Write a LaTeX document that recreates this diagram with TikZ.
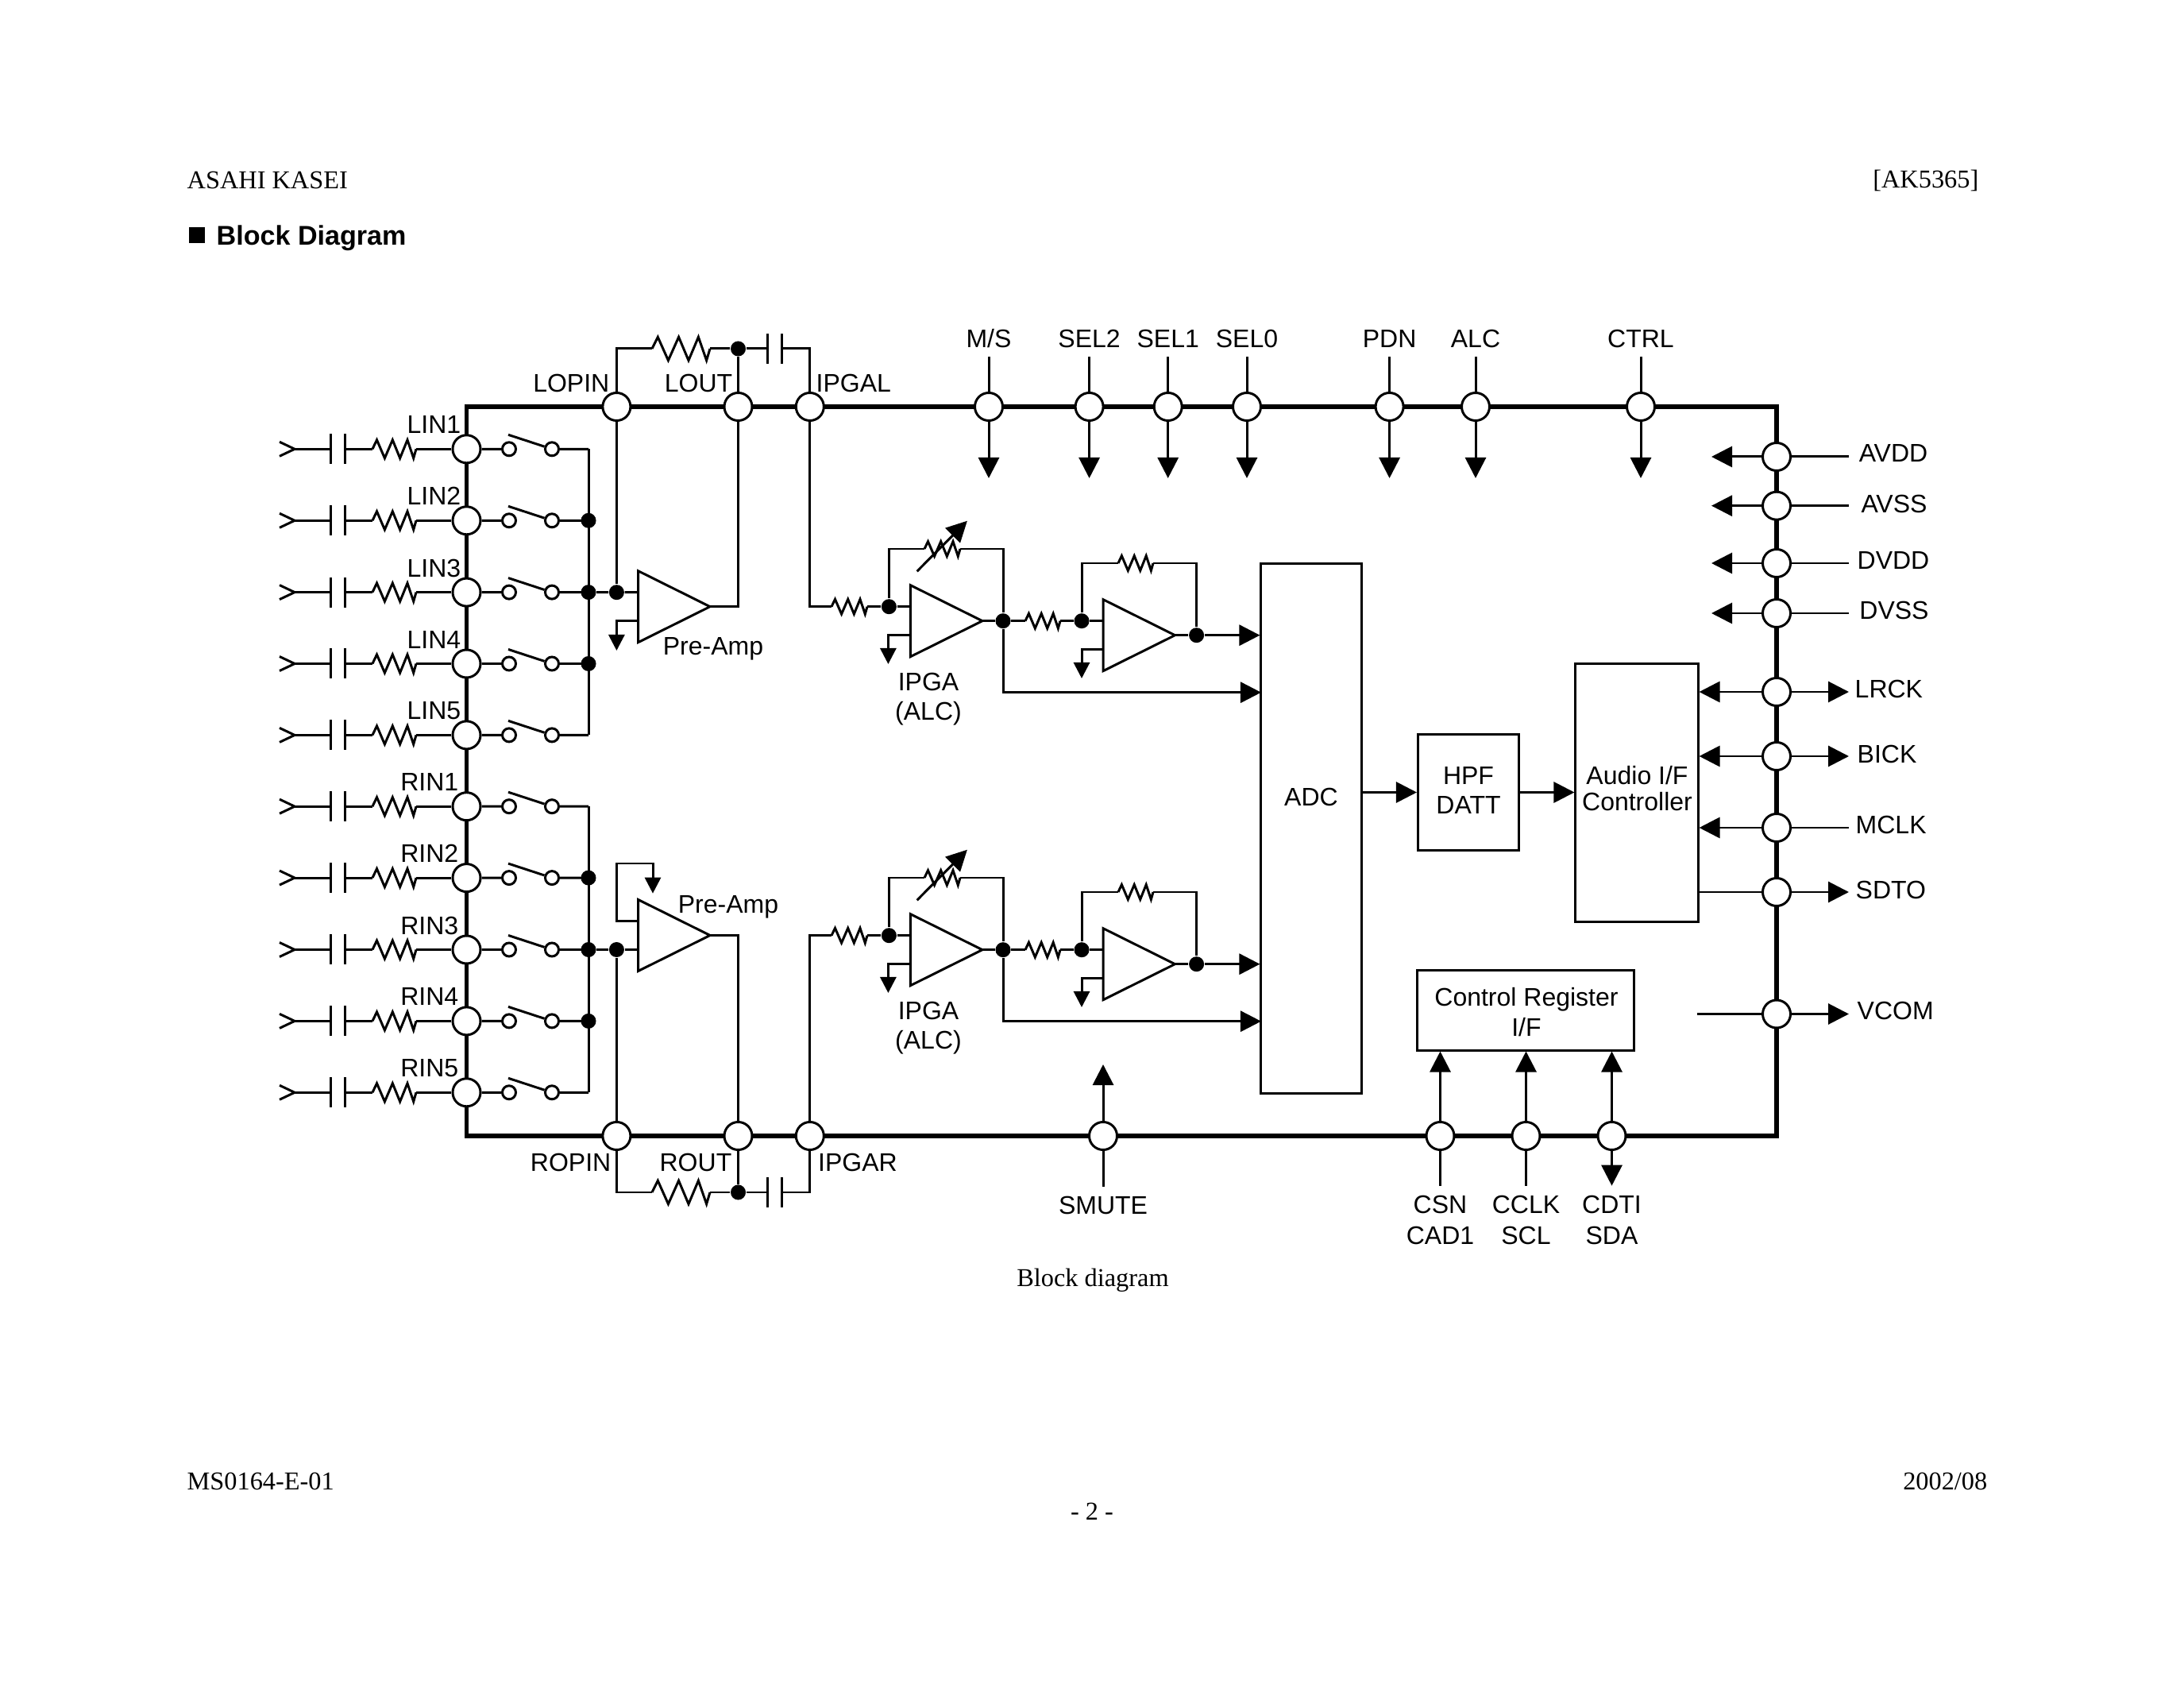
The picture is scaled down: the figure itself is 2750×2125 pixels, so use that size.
\documentclass[tikz,border=0pt]{standalone}
\usepackage{fontspec}
\setmainfont{Liberation Serif}
\setsansfont{Liberation Sans}
\usetikzlibrary{arrows.meta}

\tikzset{
  wire/.style={line width=.85pt},
  bus/.style={line width=1.7pt},
  pin/.style={circle,draw,fill=white,line width=.85pt,minimum size=.35cm,inner sep=0pt},
  sw/.style={circle,draw,fill=white,line width=.85pt,minimum size=.17cm,inner sep=0pt},
  dot/.style={circle,fill=black,minimum size=.19cm,inner sep=0pt},
  box/.style={draw,line width=.85pt,inner sep=0pt,align=center},
  lbl/.style={inner sep=0pt,align=center,font=\sffamily\fontsize{9.1}{10.5}\selectfont},
  txt/.style={inner sep=0pt,font=\fontsize{9.2}{11}\selectfont},
  bigtip/.style={-{Triangle[length=.26cm,width=.26cm]}},
  smalltip/.style={-{Triangle[length=.2cm,width=.2cm]}},
  pics/resist/.style={code={
    \coordinate (-w) at (0,0);
    \coordinate (-e) at (100,0);
    \draw[wire] (0,0) -- (10,-10) -- (28,10) -- (46,-10) -- (63,10) -- (80,-10) -- (94,10) -- (100,0);
  }},
  pics/cap/.style={code={
    \coordinate (-w) at (-9,0);
    \coordinate (-e) at (9,0);
    \draw[wire] (-9,-19) -- (-9,19) (9,-19) -- (9,19);
  }},
  pics/amp/.style={code={
    \coordinate (-p) at (0,-18);
    \coordinate (-m) at (0,18);
    \coordinate (-o) at (90.5,0);
    \draw[wire] (0,-45) -- (90.5,0) -- (0,45) -- cycle;
  }},
}

\begin{document}
\begin{tikzpicture}[x=.01cm,y=-.01cm]
    \useasboundingbox (0,0) rectangle (2750,2125);

    % page text
    \node[txt,anchor=west] (head) at (235,227) {ASAHI KASEI};
    \node[txt,anchor=east] (part) at (2492,227) {[AK5365]};
    \node[fill,minimum size=.2cm,inner sep=0pt] (sq) at (248,296) {};
    \node[anchor=west,inner sep=0pt,font=\sffamily\bfseries\fontsize{9.7}{12}\selectfont] (title) at (272,300) {Block Diagram};
    \node[txt] (capt) at (1376,1612) {Block diagram};
    \node[txt,anchor=west] (foot) at (235,1865) {MS0164-E-01};
    \node[txt,anchor=east] (date) at (2503,1865) {2002/08};
    \node[txt] (page) at (1375,1903) {- 2 -};

    % outline
    \coordinate (nw) at (587.5,512);
    \coordinate (se) at (2237,1430);
    \draw[bus] (nw) rectangle (se);

    % inputs
    \foreach \n/\y/\lx in {LIN1/565.3/581,LIN2/655.3/581,LIN3/745.6/581,LIN4/835.5/581,LIN5/925.4/581,
                           RIN1/1015.2/578,RIN2/1105.1/578,RIN3/1195.5/578,RIN4/1285.4/578,RIN5/1375.3/578} {
      \coordinate (\n-in) at (371,\y);
      \draw[wire] (352,\y-9) -- (\n-in) -- (352,\y+9);
      \pic (\n-c) at (425.5,\y) {cap};
      \pic[xscale=.55,yscale=1.15] (\n-r) at (469,\y) {resist};
      \node[pin] (\n) at (587.5,\y) {};
      \node[lbl,anchor=east] (\n-t) at (\lx,\y-30.5) {\n};
      \node[sw] (\n-a) at (641,\y) {};
      \node[sw] (\n-b) at (695,\y) {};
      \coordinate (\n-l) at (640,\y-18);
      \coordinate (\n-j) at (741,\y);
      \draw[wire] (\n-in) -- (\n-c-w) (\n-c-e) -- (\n-r-w) (\n-r-e) -- (\n);
      \draw[wire] (\n) -- (\n-a) (\n-l) -- (\n-b) (\n-b) -- (\n-j);
    }
    \draw[wire] (LIN1-j) -- (LIN5-j);
    \draw[wire] (RIN1-j) -- (RIN5-j);
    \foreach \n in {LIN2,LIN3,LIN4,RIN2,RIN3,RIN4}
      \node[dot] (\n-d) at (\n-j) {};

    % pre-amps
    \pic (pa) at (803.5,763.7) {amp};
    \pic (pb) at (803.5,1177.5) {amp};
    \node[lbl] (pa-t) at (898,817) {Pre-Amp};
    \node[lbl] (pb-t) at (917,1142) {Pre-Amp};
    \node[dot] (pa-d) at (776.4,745.7) {};
    \node[dot] (pb-d) at (776.4,1195.5) {};
    \coordinate (pa-g) at (776.4,819);
    \coordinate (pb-u) at (776.4,1087);
    \coordinate (pb-g) at (822,1124.7);
    \draw[wire] (LIN3-d) -- (pa-d) -- (pa-p);
    \draw[wire] (RIN3-d) -- (pb-d) -- (pb-m);
    \draw[wire,smalltip] (pa-m) -| (pa-g);
    \draw[wire,smalltip] (pb-p) -| (pb-u) -| (pb-g);

    % top and bottom pins of the pre-amps
    \node[pin] (lopin) at (776.4,512) {};
    \node[pin] (lout) at (929.5,512) {};
    \node[pin] (ipgal) at (1019.8,512) {};
    \node[pin] (ropin) at (776.4,1430) {};
    \node[pin] (rout) at (929.5,1430) {};
    \node[pin] (ipgar) at (1019.8,1430) {};
    \node[lbl,anchor=east] (lopin-t) at (768,482) {LOPIN};
    \node[lbl,anchor=east] (lout-t) at (923,482) {LOUT};
    \node[lbl,anchor=west] (ipgal-t) at (1027,482) {IPGAL};
    \node[lbl,anchor=east] (ropin-t) at (770,1463) {ROPIN};
    \node[lbl,anchor=east] (rout-t) at (922,1463) {ROUT};
    \node[lbl,anchor=west] (ipgar-t) at (1029.5,1463) {IPGAR};

    \foreach \c/\y/\i/\o/\g in {l/439/lopin/lout/ipgal,r/1501/ropin/rout/ipgar} {
      \pic[xscale=.73,yscale=1.47] (\c-r) at (821,\y) {resist};
      \node[dot] (\c-d) at (929.5,\y) {};
      \pic (\c-c) at (975,\y) {cap};
      \draw[wire] (\i) |- (\c-r-w);
      \draw[wire] (\c-r-e) -- (\c-d) -- (\o);
      \draw[wire] (\c-d) -- (\c-c-w);
      \draw[wire] (\c-c-e) -| (\g);
    }
    \draw[wire] (lopin) -- (pa-d);
    \draw[wire] (pa-o) -| (lout);
    \draw[wire] (ropin) -- (pb-d);
    \draw[wire] (pb-o) -| (rout);

    % converter and blocks
    \node[box,minimum width=1.26cm,minimum height=6.67cm] (adc) at (1651,1043) {};
    \node[lbl] (adc-t) at (1651,1003) {ADC};
    \node[box,minimum width=1.27cm,minimum height=1.45cm] (hpf) at (1849,997.5) {};
    \node[lbl] (hpf-t) at (1849,995) {HPF\\DATT};
    \node[box,minimum width=1.54cm,minimum height=3.24cm] (aud) at (2061,998) {};
    \node[lbl] (aud-t) at (2061.5,992.5) {Audio I/F\\[-1pt]Controller};
    \node[box,minimum width=2.72cm,minimum height=1cm] (ctl) at (1921,1272) {};
    \node[lbl] (ctl-t) at (1922,1274) {Control Register\\[.3pt]I/F};
    \draw[wire,bigtip] (adc.east |- hpf) -- (hpf.west);
    \draw[wire,bigtip] (hpf.east) -- (hpf.east -| aud.west);

    % two channels of IPGA
    \foreach \c/\dy in {a/0,b/414} {
      \begin{scope}[shift={(0,\dy)}]
        \pic[xscale=.45,yscale=.93] (\c-r1) at (1047,763.7) {resist};
        \node[dot] (\c-d1) at (1119.4,763.7) {};
        \pic (\c-a1) at (1146.4,781.7) {amp};
        \coordinate (\c-g1) at (1118.4,836);
        \node[dot] (\c-d2) at (1263,781.7) {};
        \pic[xscale=.45,yscale=.93] (\c-r2) at (1164,691) {resist};
        \pic[xscale=.44,yscale=.93] (\c-r3) at (1291,781.7) {resist};
        \node[dot] (\c-d3) at (1362,781.7) {};
        \pic (\c-a2) at (1389,799.7) {amp};
        \coordinate (\c-g2) at (1362,854);
        \node[dot] (\c-d4) at (1506.6,799.7) {};
        \pic[xscale=.44,yscale=.93] (\c-r4) at (1408,709) {resist};
        \coordinate (\c-e) at (1588,871.7);
        \coordinate (\c-v1) at (1154.6,719.3);
        \coordinate (\c-v2) at (1217.9,655.7);
        \node[lbl] (\c-t) at (1169,880.5) {IPGA\\(ALC)};
      \end{scope}
      \draw[wire] (\c-r1-e) -- (\c-d1) -- (\c-a1-p);
      \draw[wire] (\c-a1-o) -- (\c-d2) -- (\c-r3-w);
      \draw[wire] (\c-r3-e) -- (\c-d3) -- (\c-a2-p);
      \draw[wire] (\c-a2-o) -- (\c-d4);
      \draw[wire,smalltip] (\c-a1-m) -| (\c-g1);
      \draw[wire,smalltip] (\c-a2-m) -| (\c-g2);
      \draw[wire] (\c-d1) |- (\c-r2-w);
      \draw[wire] (\c-r2-e) -| (\c-d2);
      \draw[wire] (\c-d3) |- (\c-r4-w);
      \draw[wire] (\c-r4-e) -| (\c-d4);
      \draw[wire,bigtip] (\c-v1) -- (\c-v2);
      \draw[wire,bigtip] (\c-d4) -- (\c-d4 -| adc.west);
      \draw[wire,bigtip] (\c-d2) |- (\c-e);
    }
    \draw[wire] (ipgal) |- (a-r1-w);
    \draw[wire] (ipgar) |- (b-r1-w);

    % pins on the top edge
    \foreach \p/\t/\x in {ms/{M/S}/1245,sel2/SEL2/1371.6,sel1/SEL1/1470.7,sel0/SEL0/1570,
                          pdn/PDN/1749.6,alc/ALC/1858,ctrl/CTRL/2066} {
      \node[lbl] (\p-t) at (\x,426) {\t};
      \node[pin] (\p) at (\x,512) {};
      \coordinate (\p-a) at (\x,449);
      \coordinate (\p-g) at (\x,602);
      \draw[wire] (\p-a) -- (\p);
      \draw[wire,bigtip] (\p) -- (\p-g);
    }

    % supplies on the right edge
    \foreach \p/\y/\ly/\lx in {AVDD/575/570/2384,AVSS/636.7/634/2385,DVDD/709/705/2384,DVSS/772/768/2385} {
      \node[pin] (\p) at (2237,\y) {};
      \coordinate (\p-g) at (2155,\y);
      \coordinate (\p-o) at (2328,\y);
      \node[lbl] (\p-t) at (\lx,\ly) {\p};
      \draw[wire,bigtip] (\p) -- (\p-g);
      \draw[wire] (\p) -- (\p-o);
    }

    % digital pins on the right edge
    \foreach \p/\y/\ly/\lx in {LRCK/871/867/2335,BICK/952/949/2338,MCLK/1042/1038/2336,SDTO/1123/1120/2336,VCOM/1276.5/1272/2338} {
      \node[pin] (\p) at (2237,\y) {};
      \coordinate (\p-o) at (2328,\y);
      \node[lbl,anchor=west] (\p-t) at (\lx,\ly) {\p};
    }
    \foreach \p in {LRCK,BICK,SDTO,VCOM}
      \draw[wire,bigtip] (\p) -- (\p-o);
    \draw[wire] (MCLK) -- (MCLK-o);
    \foreach \p in {LRCK,BICK,MCLK}
      \draw[wire,bigtip] (\p) -- (\p -| aud.east);
    \draw[wire] (aud.east |- SDTO) -- (SDTO);
    \coordinate (vc) at (2136.5,1276.5);
    \draw[wire] (vc) -- (VCOM);

    % pins on the bottom edge
    \node[pin] (smute) at (1389,1430) {};
    \coordinate (smute-a) at (1389,1340);
    \coordinate (smute-s) at (1389,1494);
    \node[lbl] (smute-t) at (1389,1517) {SMUTE};
    \draw[wire,bigtip] (smute) -- (smute-a);
    \draw[wire] (smute) -- (smute-s);

    \foreach \p/\x/\t in {csn/1813.5/{CSN\\[.6pt]CAD1},cclk/1921.5/{CCLK\\[.6pt]SCL},cdti/2029.5/{CDTI\\[.6pt]SDA}} {
      \node[pin] (\p) at (\x,1430) {};
      \coordinate (\p-s) at (\x,1492.7);
      \node[lbl] (\p-t) at (\x,1536) {\t};
      \draw[wire,bigtip] (\p) -- (\p |- ctl.south);
    }
    \draw[wire] (csn) -- (csn-s);
    \draw[wire] (cclk) -- (cclk-s);
    \draw[wire,bigtip] (cdti) -- (cdti-s);
\end{tikzpicture}
\end{document}
